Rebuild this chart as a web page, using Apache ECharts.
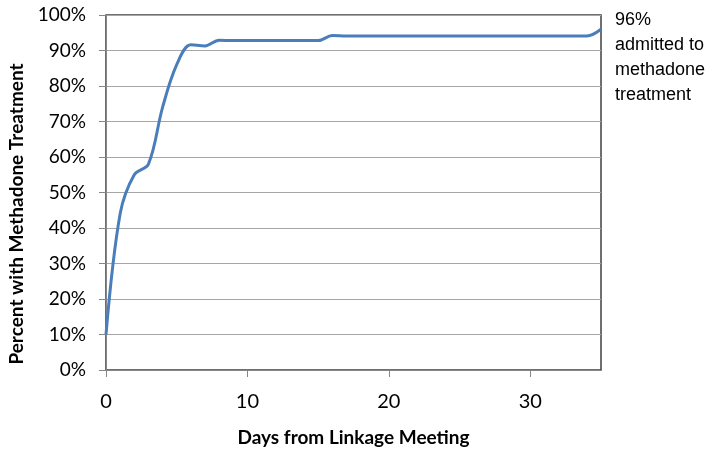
<!DOCTYPE html>
<html>
<head>
<meta charset="utf-8">
<script src="https://cdn.jsdelivr.net/npm/echarts@6/dist/echarts.min.js"></script>
<style>
  html, body { margin: 0; padding: 0; background: #fff; }
  #chart { width: 714px; height: 460px; }
</style>
</head>
<body>
<div id="chart"></div>
<script>
const days = [0, 1, 2, 3, 4, 5, 6, 7, 8, 9, 10, 11, 12, 13, 14, 15, 16, 17, 18, 19, 20, 21, 22, 23, 24, 25, 26, 27, 28, 29, 30, 31, 32, 33, 34, 35]
const percent = [10, 44, 55, 58, 74, 86, 91.6, 91.3, 92.9, 92.8, 92.8, 92.8, 92.8, 92.8, 92.8, 92.8, 94.2, 94.1, 94.1, 94.1, 94.1, 94.1, 94.1, 94.1, 94.1, 94.1, 94.1, 94.1, 94.1, 94.1, 94.1, 94.1, 94.1, 94.1, 94.1, 96]
const note = '96%\nadmitted to\nmethadone\ntreatment'
const yTitle = 'Percent with Methadone Treatment'
const font = 'Lato, "Open Sans", sans-serif'

const chart = echarts.init(document.getElementById('chart'))
chart.setOption({
  animation: false,
  textStyle: { fontFamily: font },
  grid: {
    left: 106, right: 113, top: 15, bottom: 90,
    containLabel: false, outerBoundsMode: 'none',
    show: true, borderColor: '#404040', borderWidth: 1.5
  },
  xAxis: {
    type: 'value', min: 0, max: 35, interval: 10,
    name: 'Days from Linkage Meeting', nameLocation: 'middle', nameGap: 58,
    nameTextStyle: { fontSize: 19, fontWeight: 'bold', color: '#000', fontFamily: font },
    axisLine: { lineStyle: { color: '#868686', width: 1 } },
    axisTick: { show: true, length: 7, lineStyle: { color: '#868686' } },
    axisLabel: { fontSize: 20, color: '#000', margin: 22, showMaxLabel: false },
    splitLine: { show: false }
  },
  yAxis: {
    type: 'value', min: 0, max: 100, interval: 10,
    axisLine: { show: true, lineStyle: { color: '#868686', width: 1 } },
    axisTick: { show: true, length: 7, lineStyle: { color: '#868686' } },
    axisLabel: { fontSize: 19, color: '#000', margin: 20, formatter: '{value}%' },
    splitLine: { lineStyle: { color: '#a6a6a6', width: 1 } }
  },
  graphic: [{
    type: 'text', x: 17, y: 214, rotation: Math.PI / 2,
    style: {
      text: yTitle, fill: '#000', font: 'bold 19px ' + font,
      align: 'center', verticalAlign: 'middle'
    }
  }, {
    type: 'text', left: 615, top: 8,
    style: { text: note, fontSize: 18, lineHeight: 25, fill: '#000', font: '18px ' + font }
  }],
  series: [{
    type: 'line',
    data: days.map((d, i) => [d, percent[i]]),
    smooth: 0.35,
    showSymbol: false,
    lineStyle: { color: '#4a7ebb', width: 3 }
  }]
})
</script>
</body>
</html>
